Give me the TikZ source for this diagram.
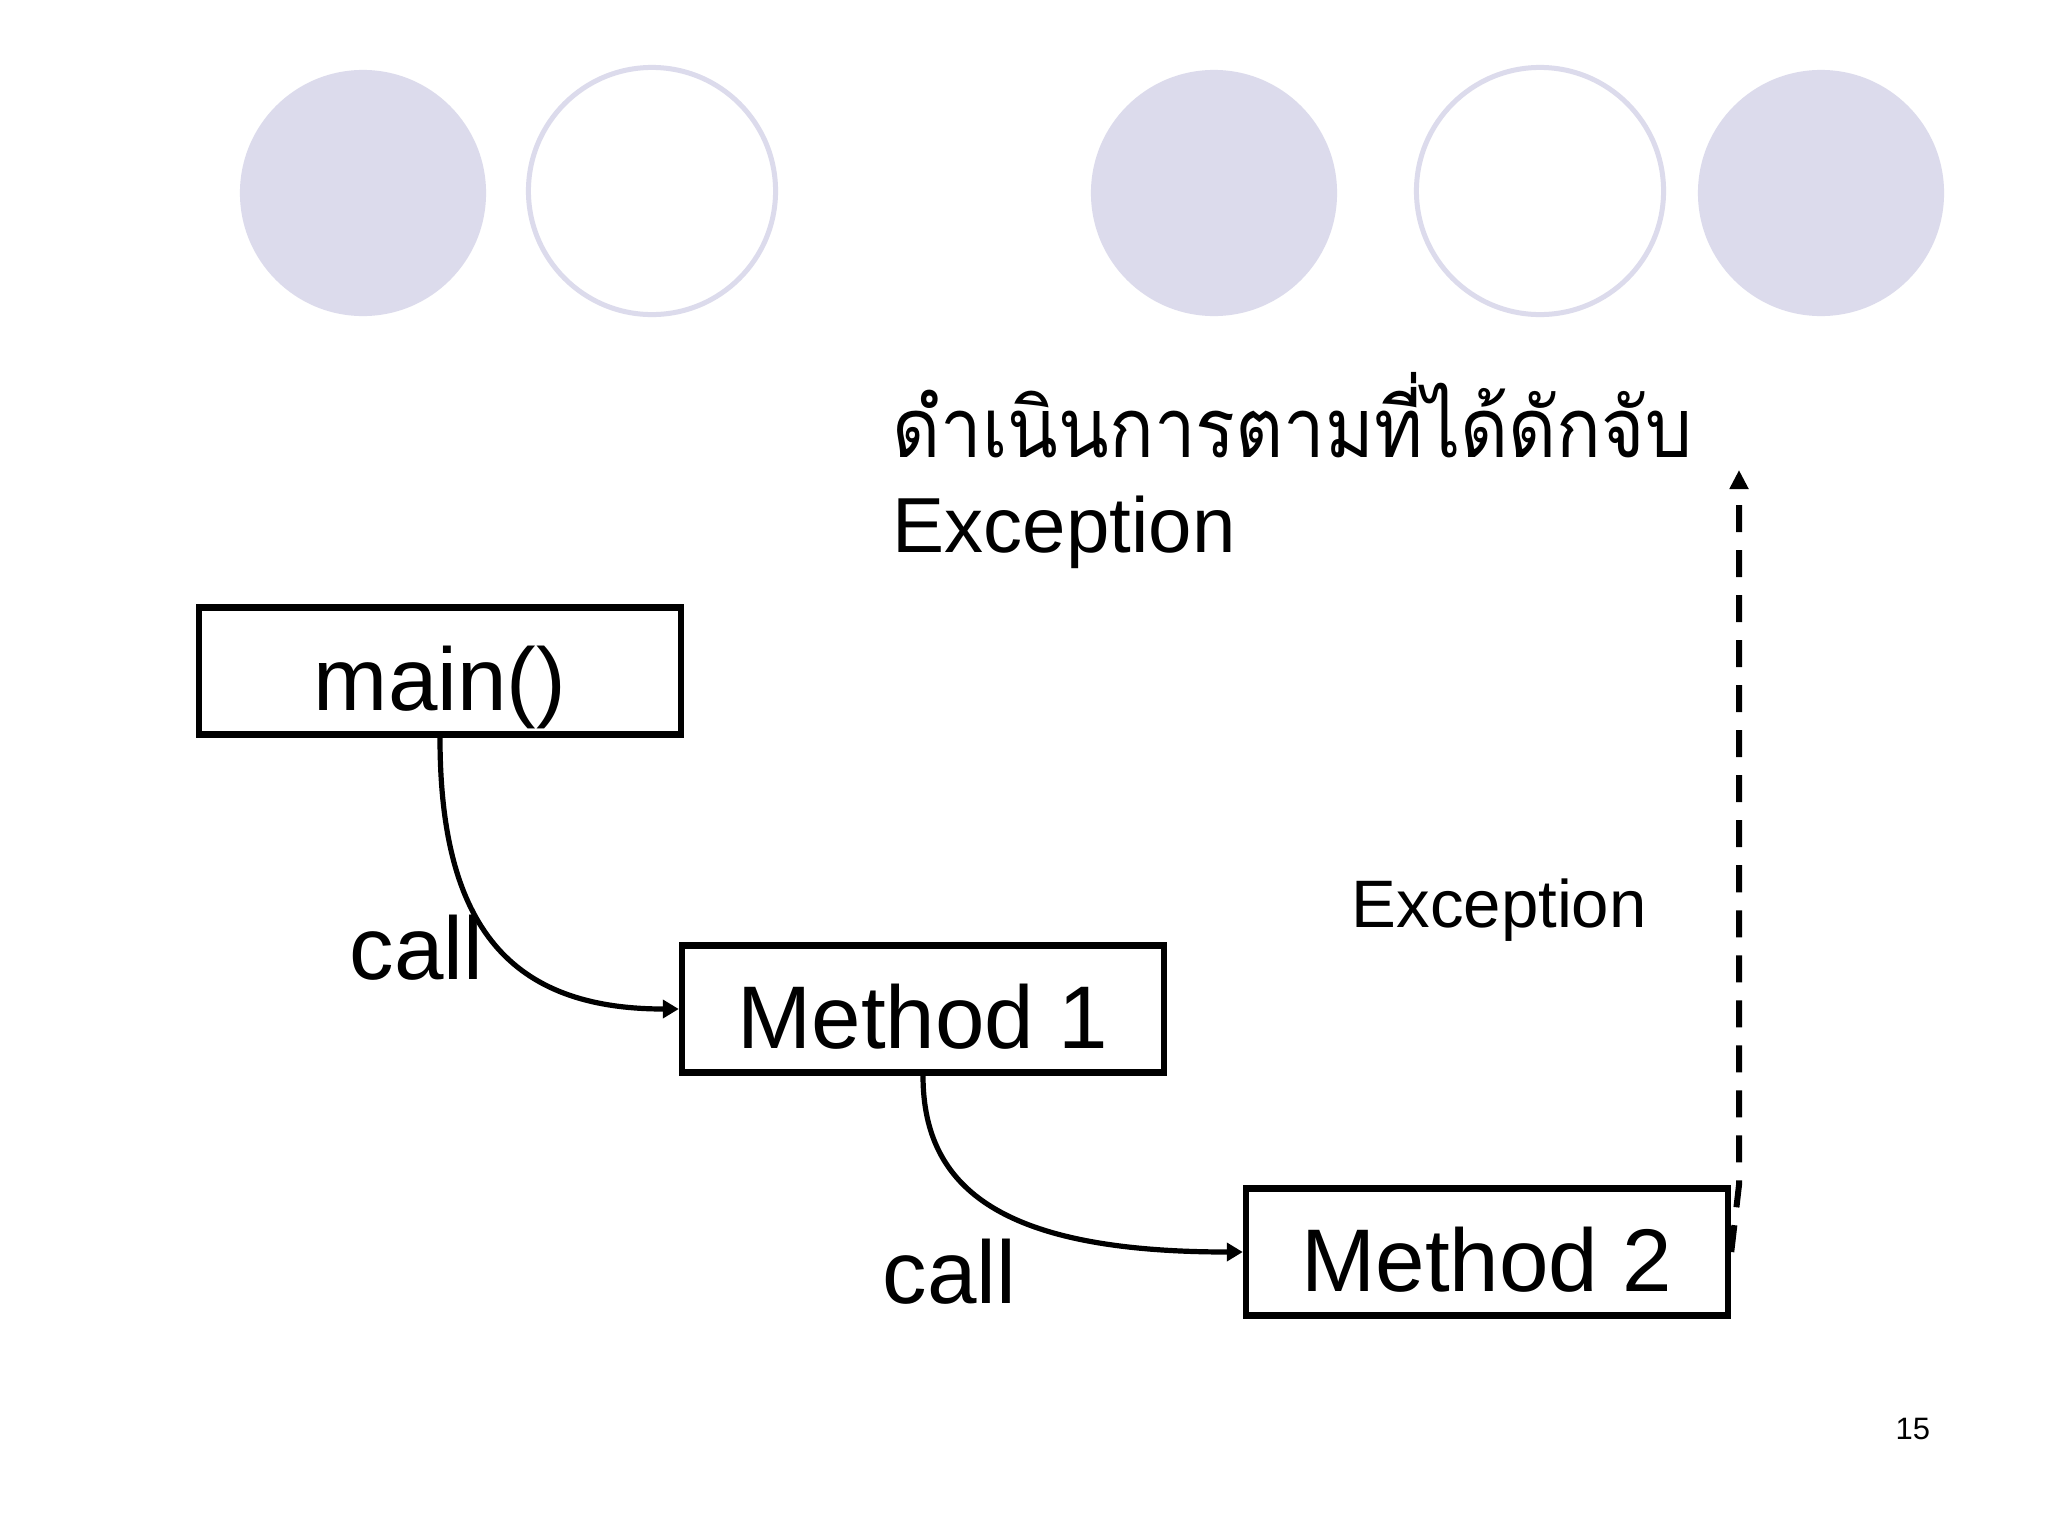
\documentclass[tikz,border=0pt]{standalone}
\usepackage{fontspec}
\usepackage{graphicx}
\setmainfont{Liberation Sans}
\newfontfamily\thaifont[Script=Thai]{Loma}
\usetikzlibrary{arrows.meta}
\definecolor{lav}{RGB}{220,219,236}
\begin{document}
\begin{tikzpicture}[x=0.01cm,y=-0.01cm,
  box/.style={draw, line width=0.062cm, minimum width=4.82cm, minimum height=1.27cm,
    inner sep=0pt, font=\fontsize{25.3pt}{30pt}\selectfont, text height=24pt, text depth=1.3pt},
  lbl/.style={inner sep=0pt, anchor=base west},
  callfont/.style={font=\fontsize{25.3pt}{30pt}\selectfont},
  callarrow/.style={line width=0.052cm, -{Triangle[length=0.16cm,width=0.18cm]}},
  excarrow/.style={line width=0.06cm, dash pattern=on 0.27cm off 0.18cm,
    -{Triangle[length=0.19cm,width=0.18cm]}},
  dot/.style={fill=lav},
  ring/.style={draw=lav, line width=0.05cm}
]
\fill[white] (0,0) rectangle (2048,1536);
\useasboundingbox (0,0) rectangle (2048,1536);

% decorative circles
\fill[dot] (363,193) circle[radius=1.23cm];
\draw[ring] (652,191) circle[radius=1.235cm];
\fill[dot] (1214,193) circle[radius=1.23cm];
\draw[ring] (1540,191) circle[radius=1.235cm];
\fill[dot] (1821,193) circle[radius=1.23cm];

% boxes
\node[box] (main) at (440,671) {main()};
\node[box] (m1) at (923,1009) {Method 1};
\node[box] (m2) at (1487,1252) {Method 2};

% texts
\node[lbl, font=\fontsize{22.2pt}{27pt}\thaifont] (thai) at (892,457) {\scalebox{0.95}[1.06]{ดำเนินการตามที่ได้ดักจับ}};
\node[lbl, font=\fontsize{22.2pt}{27pt}\selectfont] (exc1) at (892,552) {Exception};
\node[lbl, font=\fontsize{19.1pt}{23pt}\selectfont] (exc2) at (1351,927) {Exception};
\node[lbl, callfont] (call1) at (349,979) {call};
\node[lbl, callfont] (call2) at (882,1303) {call};
\node[lbl, font=\fontsize{8.8pt}{10pt}\selectfont] (pg) at (1895,1439) {15};

% connectors
\draw[callarrow] (main.south) .. controls +(0,190) and +(-168,0) .. (m1.west);
\draw[callarrow] (m1.south) .. controls +(0,115) and +(-238,0) .. (m2.west);

\coordinate (kink) at (1739,1185);
\coordinate (top) at (1739,470);
\draw[excarrow] (m2.east) -- (kink) -- (top);
\end{tikzpicture}
\end{document}
